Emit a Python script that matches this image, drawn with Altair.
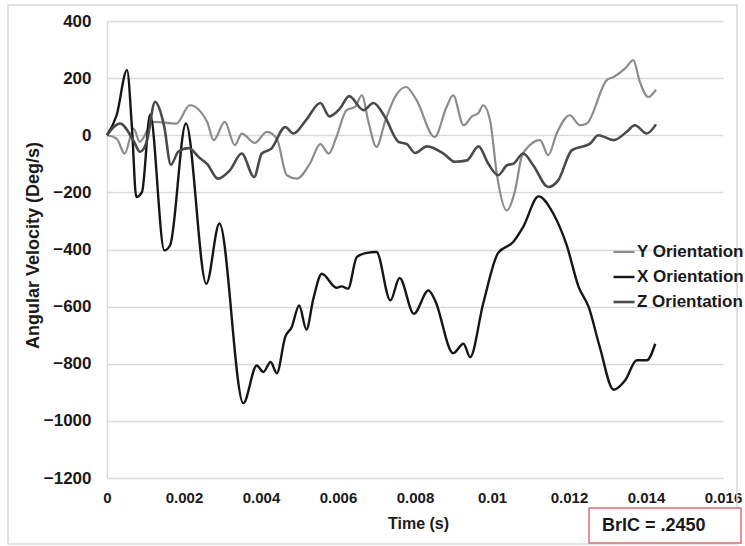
import altair as alt
import pandas as pd

# Angular velocity traces: time (s) and velocity (deg/s) per orientation
x_time = [0, 0.00025, 0.00052, 0.00065, 0.00076, 0.00091, 0.00112, 0.00149, 0.00164,
          0.00205, 0.00258, 0.00292, 0.00354, 0.00389, 0.00406, 0.00425, 0.00441, 0.00463,
          0.00480, 0.00499, 0.00518, 0.00536, 0.00558, 0.00596, 0.00609, 0.00626, 0.00649,
          0.00675, 0.00700, 0.00736, 0.00760, 0.00797, 0.00835, 0.00852, 0.00899, 0.00926,
          0.00943, 0.00977, 0.01016, 0.01055, 0.01081, 0.01121, 0.01159, 0.01194, 0.01225,
          0.01251, 0.01280, 0.01316, 0.01346, 0.01376, 0.01402, 0.01424]
x_vel = [0, 70, 228, 23, -216, -198, 72, -403, -385,
         41, -520, -309, -938, -806, -829, -794, -833, -706,
         -671, -596, -680, -572, -485, -534, -529, -537, -426,
         -412, -409, -578, -500, -625, -543, -578, -763, -730,
         -777, -590, -412, -374, -321, -214, -274, -385, -531,
         -601, -742, -891, -858, -788, -788, -730]

y_time = [0, 0.00025, 0.00046, 0.00069, 0.00085, 0.00120, 0.00180, 0.00215, 0.00260, 0.00277,
          0.00306, 0.00332, 0.00350, 0.00384, 0.00415, 0.00441, 0.00467, 0.00493, 0.00527, 0.00554,
          0.00576, 0.00596, 0.00622, 0.00644, 0.00662, 0.00679, 0.00700, 0.00722, 0.00748, 0.00777,
          0.00804, 0.00851, 0.00882, 0.00899, 0.00926, 0.00948, 0.00965, 0.00977, 0.00995, 0.01013,
          0.01038, 0.01060, 0.01077, 0.01098, 0.01125, 0.01146, 0.01168, 0.01202, 0.01229, 0.01246,
          0.01298, 0.01316, 0.01346, 0.01367, 0.01384, 0.01406, 0.01426]
y_vel = [0, -12, -64, 23, -23, 47, 41, 105, 47, -17,
         47, -35, 6, -27, 12, -12, -140, -152, -99, -31,
         -64, -6, 88, 99, 140, 47, -41, 47, 134, 169,
         123, -6, 99, 140, 35, 66, 78, 105, 52, -140,
         -263, -193, -76, -35, -17, -70, 6, 70, 35, 41,
         193, 204, 234, 263, 187, 134, 160]

z_time = [0, 0.00034, 0.00068, 0.00086, 0.00103, 0.00125, 0.00148, 0.00166, 0.00185, 0.00212,
          0.00241, 0.00260, 0.00288, 0.00319, 0.00350, 0.00382, 0.00402, 0.00427, 0.00463, 0.00484,
          0.00518, 0.00554, 0.00578, 0.00605, 0.00629, 0.00666, 0.00692, 0.00722, 0.00757, 0.00779,
          0.00800, 0.00831, 0.00874, 0.00904, 0.00935, 0.00965, 0.00990, 0.01016, 0.01039, 0.01056,
          0.01081, 0.01107, 0.01146, 0.01172, 0.01207, 0.01255, 0.01276, 0.01316, 0.01350, 0.01371,
          0.01402, 0.01426]
z_vel = [0, 41, -17, -58, -23, 117, 35, -103, -58, -45,
         -80, -100, -152, -123, -64, -146, -64, -47, 29, 6,
         55, 113, 66, 93, 137, 88, 113, 64, -23, -31,
         -62, -39, -64, -93, -88, -39, -99, -140, -105, -99,
         -64, -105, -181, -158, -53, -29, 0, -17, 12, 35,
         6, 38]

series_names = ["Y Orientation", "X Orientation", "Z Orientation"]
series_colors = ["#8c8c8c", "#161616", "#4a4a4a"]
series_widths = [2.2, 2.6, 2.2]

x_ticks = [0, 0.002, 0.004, 0.006, 0.008, 0.01, 0.012, 0.014, 0.016]
y_ticks = [-1200, -1000, -800, -600, -400, -200, 0, 200, 400]

bric_label = "BrIC = .2450"

rows = []
for name, ts, vs in zip(series_names, [y_time, x_time, z_time], [y_vel, x_vel, z_vel]):
    for t, v in zip(ts, vs):
        rows.append({"series": name, "t": t, "v": v})
df = pd.DataFrame(rows)

FONT = "Liberation Sans"
GRID = "#d9d9d9"
INK = "#1a1a1a"

lines = alt.Chart(df).mark_line(interpolate="monotone").encode(
    x=alt.X(
        "t:Q",
        scale=alt.Scale(domain=[0, 0.016], nice=False, zero=False),
        axis=alt.Axis(
            values=x_ticks, format="~g", title="Time (s)",
            grid=False, domain=False, ticks=False,
            labelPadding=12, labelFontSize=15, labelFont=FONT, labelFontWeight="bold",
            labelColor=INK, labelFlush=False,
            titleFont=FONT, titleFontSize=16, titleFontWeight="bold", titleColor=INK,
            titleX=311, titleY=45, titleBaseline="middle", titleAlign="center",
        ),
    ),
    y=alt.Y(
        "v:Q",
        scale=alt.Scale(domain=[-1200, 400], nice=False),
        axis=alt.Axis(
            values=y_ticks, format="d", title="Angular Velocity (Deg/s)",
            grid=True, gridColor=GRID, gridWidth=1.5,
            domain=True, domainColor=GRID, domainWidth=1.5, ticks=False,
            labelPadding=16, labelFontSize=17, labelFont=FONT, labelFontWeight="bold",
            labelColor=INK,
            titleFont=FONT, titleFontSize=18, titleFontWeight="bold", titleColor=INK,
            titleX=-74, titleY=224, titleAngle=270, titleBaseline="middle", titleAlign="center",
        ),
    ),
    color=alt.Color(
        "series:N",
        scale=alt.Scale(domain=series_names, range=series_colors),
        legend=alt.Legend(
            title=None, orient="none", legendX=505, legendY=219,
            symbolType="stroke", symbolSize=441, symbolStrokeWidth=2.5,
            labelFont=FONT, labelFontSize=17, labelFontWeight="bold", labelColor=INK,
            labelOffset=1, rowPadding=5, padding=0,
        ),
    ),
    strokeWidth=alt.StrokeWidth(
        "series:N",
        scale=alt.Scale(domain=series_names, range=series_widths),
        legend=None,
    ),
)

one = pd.DataFrame({"label": [bric_label]})

frame = alt.Chart(one).mark_rect(fill="transparent", stroke=GRID, strokeWidth=1.5).encode(
    x=alt.value(-99), x2=alt.value(630), y=alt.value(-16), y2=alt.value(523)
)

bric_box = alt.Chart(one).mark_rect(fill="white", stroke="#e06d72", strokeWidth=1.5).encode(
    x=alt.value(482), x2=alt.value(634), y=alt.value(487), y2=alt.value(522)
)

bric_text = alt.Chart(one).mark_text(
    align="left", baseline="middle", font=FONT, fontSize=18, fontWeight="bold", color=INK
).encode(
    x=alt.value(495), y=alt.value(505), text="label:N"
)

chart = alt.layer(frame, lines, bric_box, bric_text).properties(
    width=616,
    height=457,
    autosize=alt.AutoSizeParams(type="none"),
    padding={"left": 107, "top": 21, "right": 22, "bottom": 68},
    background="white",
).configure_view(stroke=None)

chart.save("out.html", embed_options={"renderer": "svg", "actions": False})
